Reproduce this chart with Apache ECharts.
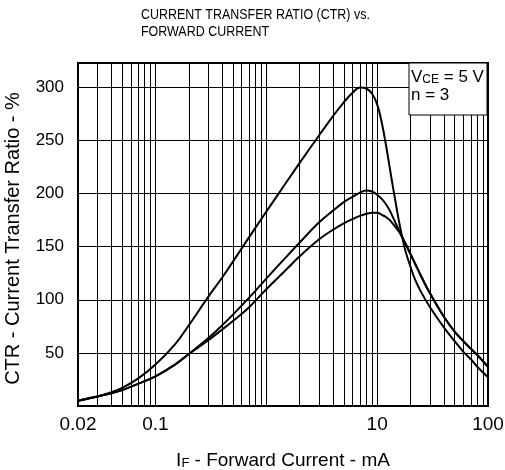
<!DOCTYPE html>
<html>
<head>
<meta charset="utf-8">
<script src="https://cdn.jsdelivr.net/npm/echarts@6/dist/echarts.min.js"></script>
<style>html,body{margin:0;padding:0;background:#fff}#c{width:505px;height:470px}</style>
</head>
<body>
<div id="c"></div>
<script>
// Data (x: forward current mA, y: CTR %)
var xA = [0.02, 0.03, 0.04, 0.05, 0.07, 0.1, 0.15, 0.2, 0.3, 0.4, 0.5, 0.7, 1, 1.5, 2, 3, 4, 5, 6, 7, 8, 9, 10, 11, 12, 13, 14, 15, 16, 17, 18, 20, 22, 25, 30, 40, 50, 60, 70, 80, 100];
var yA = [5, 9, 13, 17, 26, 39, 58, 76, 103, 121, 136, 159, 183, 210, 229, 255, 273, 286, 295, 300, 299, 294, 284, 267, 246, 224, 204, 186, 170, 157, 146, 131, 119, 107, 93, 74, 61, 51, 44, 37, 27];
var xB = [0.02, 0.03, 0.04, 0.05, 0.07, 0.1, 0.15, 0.2, 0.3, 0.4, 0.5, 0.7, 1, 1.5, 2, 3, 4, 5, 6, 7, 8, 9, 10, 11, 12, 13, 14, 15, 16, 17, 18, 20, 22, 25, 30, 40, 50, 60, 70, 80, 100];
var yB = [5, 9, 12, 15, 21, 28, 39, 49, 64, 76, 86, 102, 120, 140, 154, 173, 184, 192, 197, 201, 203, 202, 199, 195, 190, 184, 177, 170, 164, 158, 153, 143, 134, 122, 106, 84, 70, 61, 54, 48, 37];
var xC = [0.02, 0.03, 0.04, 0.05, 0.07, 0.1, 0.15, 0.2, 0.3, 0.4, 0.5, 0.7, 1, 1.5, 2, 3, 4, 5, 6, 7, 8, 9, 10, 11, 12, 13, 14, 15, 16, 17, 18, 20, 22, 25, 30, 40, 50, 60, 70, 80, 100];
var yC = [5, 9, 12, 15, 21, 28, 39, 49, 62, 72, 80, 93, 110, 128, 141, 157, 166, 172, 176, 179, 181, 182, 182, 180, 178, 175, 171, 167, 163, 158, 153, 143, 134, 122, 106, 84, 70, 61, 54, 48, 37];
var xTickLabels = [0.02, 0.1, 10, 100];
var xGridLines = [0.03, 0.04, 0.05, 0.06, 0.07, 0.08, 0.09, 0.1, 0.2, 0.3, 0.4, 0.5, 0.6, 0.7, 0.8, 0.9, 1, 2, 3, 4, 5, 6, 7, 8, 9, 10, 20, 30, 40, 50, 60, 70, 80, 90];
var yTicks = [50, 100, 150, 200, 250, 300];
var titleLines = ['CURRENT TRANSFER RATIO (CTR) vs.', 'FORWARD CURRENT'];

function pairs(xs, ys) { return xs.map(function (x, i) { return [x, ys[i]]; }); }

var font = 'Liberation Sans, Arial, sans-serif';
var chart = echarts.init(document.getElementById('c'), null, { renderer: 'canvas' });
var lineStyle = { color: '#000', width: 2 };

chart.setOption({
  animation: false,
  grid: { left: 78, right: 17, top: 63, bottom: 64, containLabel: false, outerBoundsMode: 'none', show: true, borderColor: '#000', borderWidth: 2, backgroundColor: 'transparent' },
  xAxis: {
    type: 'log', logBase: 10, min: 0.02, max: 100,
    name: 'I{s|F} - Forward Current - mA',
    nameLocation: 'middle', nameGap: 45,
    nameTextStyle: { fontFamily: font, fontSize: 19, color: '#000', rich: { s: { fontFamily: font, fontSize: 13, color: '#000', verticalAlign: 'bottom' } } },
    axisLine: { show: true, lineStyle: { color: '#000', width: 2 } },
    axisTick: { show: false },
    splitLine: { show: false },
    axisLabel: {
      fontFamily: font, fontSize: 19, color: '#000', margin: 9,
      formatter: function (v) {
        for (var i = 0; i < xTickLabels.length; i++) {
          if (Math.abs(Math.log10(v) - Math.log10(xTickLabels[i])) < 0.01) return String(xTickLabels[i]);
        }
        return '';
      }
    }
  },
  yAxis: {
    type: 'value', min: 0, max: 323, interval: 50,
    name: 'CTR - Current Transfer Ratio - %',
    nameLocation: 'middle', nameGap: 55,
    nameTextStyle: { fontFamily: font, fontSize: 20, color: '#000', padding: [0, 8, 0, 0] },
    axisLine: { show: true, lineStyle: { color: '#000', width: 2 } },
    axisTick: { show: false },
    splitLine: { show: true, lineStyle: { color: '#000', width: 1 } },
    axisLabel: {
      fontFamily: font, fontSize: 17, color: '#000', margin: 14,
      formatter: function (v) { return yTicks.indexOf(v) >= 0 ? String(v) : ''; }
    }
  },
  graphic: [
    { type: 'text', x: 141, y: 7, scaleX: 0.89, style: { text: titleLines.join('\n'), font: '14px ' + font, fill: '#000', lineHeight: 17 } },
    { type: 'rect', z: 100, shape: { x: 409, y: 63, width: 78, height: 52 }, style: { fill: '#fff', stroke: '#000', lineWidth: 1 } },
    { type: 'text', z: 101, x: 411, y: 69, style: { text: 'V{s|CE} = 5 V', font: '17px ' + font, fill: '#000', rich: { s: { fontSize: 12, fontFamily: font, fill: '#000', verticalAlign: 'bottom' } } } },
    { type: 'text', z: 101, x: 411, y: 87, style: { text: 'n = 3', font: '17px ' + font, fill: '#000' } }
  ],
  series: [
    {
      type: 'line', data: pairs(xA, yA), smooth: 0.4, showSymbol: false, symbol: 'none', lineStyle: lineStyle, z: 5,
      markLine: {
        silent: true, symbol: ['none', 'none'], label: { show: false },
        lineStyle: { color: '#000', width: 1, type: 'solid' },
        data: xGridLines.map(function (v) { return { xAxis: v }; })
      }
    },
    { type: 'line', data: pairs(xB, yB), smooth: 0.4, showSymbol: false, symbol: 'none', lineStyle: lineStyle, z: 5 },
    { type: 'line', data: pairs(xC, yC), smooth: 0.4, showSymbol: false, symbol: 'none', lineStyle: lineStyle, z: 5 }
  ]
});
</script>
</body>
</html>
